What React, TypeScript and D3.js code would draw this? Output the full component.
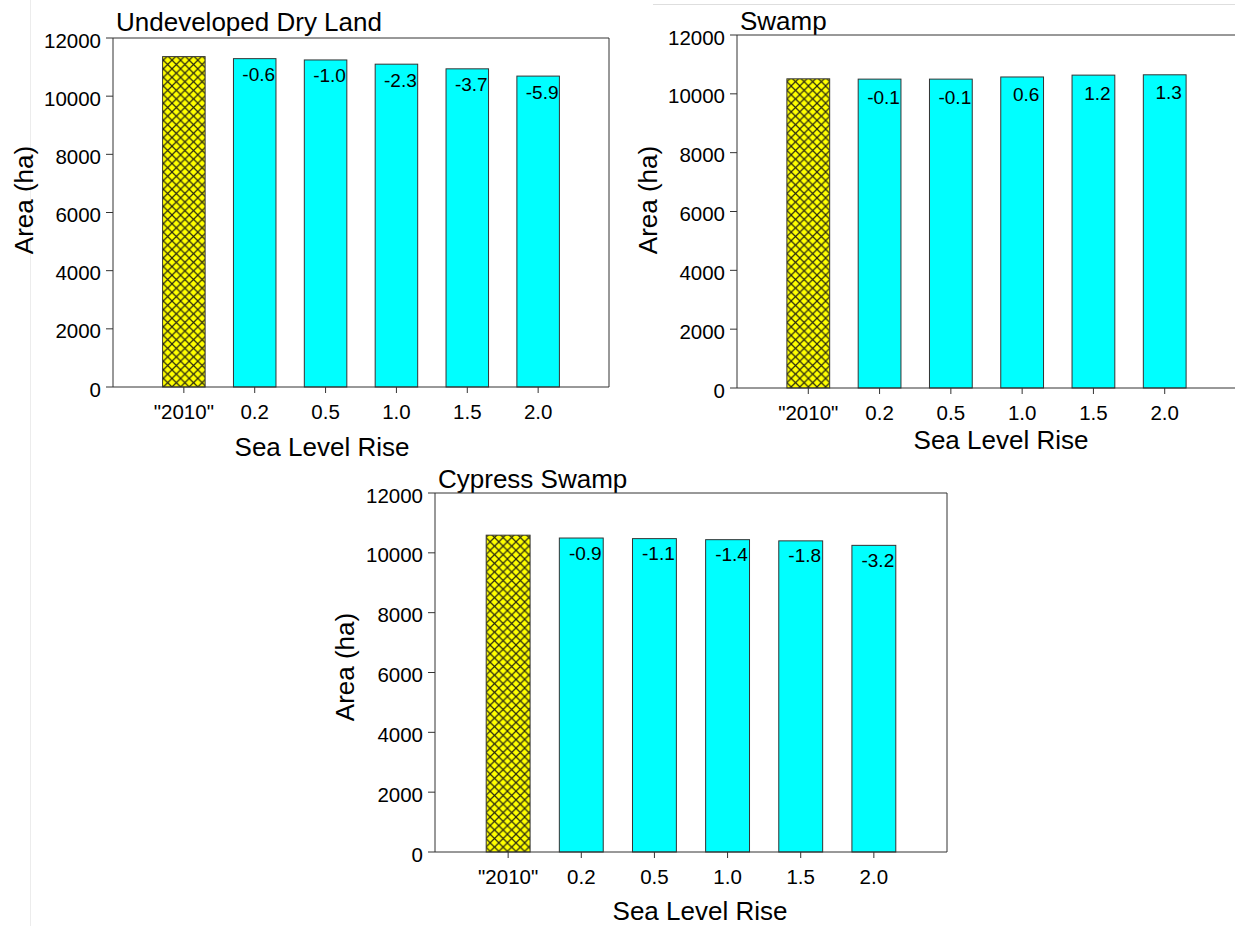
import React from "react";
import * as d3 from "d3";

const categories = ['"2010"', "0.2", "0.5", "1.0", "1.5", "2.0"];
const yTickValues = [0, 2000, 4000, 6000, 8000, 10000, 12000];

const dryLandValues = [11360, 11290, 11245, 11100, 10940, 10690];
const dryLandLabels = ["", "-0.6", "-1.0", "-2.3", "-3.7", "-5.9"];

const swampValues = [10510, 10500, 10500, 10573, 10636, 10647];
const swampLabels = ["", "-0.1", "-0.1", "0.6", "1.2", "1.3"];

const cypressValues = [10590, 10495, 10475, 10440, 10400, 10250];
const cypressLabels = ["", "-0.9", "-1.1", "-1.4", "-1.8", "-3.2"];

const FONT = "'Liberation Sans', Arial, Helvetica, sans-serif";
const STROKE = "#333";

type PanelProps = {
  title: string;
  values: number[];
  labels: string[];
  left: number;
  right: number;
  top: number;
  bottom: number;
  titleY: number;
  yTitleX: number;
  yTitleY: number;
  xTitleX: number;
  xTitleY: number;
  labelDy: number;
};

function Panel(p: PanelProps) {
  const x = d3.scaleLinear().domain([0, 7]).range([p.left, p.right]);
  const y = d3.scaleLinear().domain([0, 12000]).range([p.bottom, p.top]);
  const bw = x(0.6) - x(0);
  return (
    <g>
      <text x={p.left + 3} y={p.titleY} fontSize={26} fontFamily={FONT} fill="#000">
        {p.title}
      </text>
      {p.values.map((v, i) => {
        const cx = x(i + 1);
        return (
          <rect
            key={i}
            x={cx - bw / 2}
            y={y(v)}
            width={bw}
            height={y(0) - y(v)}
            fill={i === 0 ? "url(#hatch)" : "#00ffff"}
            stroke={STROKE}
            strokeWidth={1}
          />
        );
      })}
      {p.values.map((v, i) =>
        p.labels[i] ? (
          <text
            key={"l" + i}
            x={x(i + 1) + 4}
            y={y(v) + p.labelDy}
            fontSize={19}
            fontFamily={FONT}
            textAnchor="middle"
            dominantBaseline="central"
            fill="#000"
          >
            {p.labels[i]}
          </text>
        ) : null
      )}
      <line x1={p.left} x2={p.right} y1={p.top} y2={p.top} stroke={STROKE} strokeWidth={1} />
      <line x1={p.right} x2={p.right} y1={p.top} y2={p.bottom} stroke={STROKE} strokeWidth={1} />
      <line x1={p.left} x2={p.left} y1={p.top} y2={p.bottom} stroke={STROKE} strokeWidth={1} />
      <line x1={p.left} x2={p.right} y1={p.bottom} y2={p.bottom} stroke={STROKE} strokeWidth={1} />
      {yTickValues.map((t) => (
        <g key={"y" + t}>
          <line x1={p.left - 7} x2={p.left} y1={y(t)} y2={y(t)} stroke={STROKE} strokeWidth={1} />
          <text
            x={p.left - 12}
            y={y(t) + 2}
            fontSize={20.5}
            fontFamily={FONT}
            textAnchor="end"
            dominantBaseline="central"
            fill="#000"
          >
            {t}
          </text>
        </g>
      ))}
      {categories.map((c, i) => (
        <g key={"x" + i}>
          <line x1={x(i + 1)} x2={x(i + 1)} y1={p.bottom} y2={p.bottom + 6} stroke={STROKE} strokeWidth={1} />
          <text
            x={x(i + 1)}
            y={p.bottom + 24}
            fontSize={20.5}
            fontFamily={FONT}
            textAnchor="middle"
            dominantBaseline="central"
            fill="#000"
          >
            {c}
          </text>
        </g>
      ))}
      <text
        x={p.xTitleX}
        y={p.xTitleY}
        fontSize={26}
        fontFamily={FONT}
        textAnchor="middle"
        dominantBaseline="central"
        fill="#000"
      >
        Sea Level Rise
      </text>
      <text
        transform={`translate(${p.yTitleX},${p.yTitleY}) rotate(-90)`}
        fontSize={26}
        fontFamily={FONT}
        textAnchor="middle"
        dominantBaseline="central"
        fill="#000"
      >
        Area (ha)
      </text>
    </g>
  );
}

export default function App() {
  return (
    <svg
      width={1235}
      height={926}
      style={{ position: "absolute", left: 0, top: 0, background: "#fff" }}
    >
      <defs>
        <pattern id="hatch" patternUnits="userSpaceOnUse" width={8.6} height={8.6}>
          <rect width={8.6} height={8.6} fill="#ffff00" />
          <path d="M0,0 L8.6,8.6 M0,8.6 L8.6,0" stroke="#2a2a10" strokeWidth={1.2} />
        </pattern>
      </defs>
      <rect width={1235} height={926} fill="#fff" />
      <line x1={30.5} x2={30.5} y1={0} y2={926} stroke="#ececec" strokeWidth={1} />
      <line x1={653} x2={1235} y1={4.5} y2={4.5} stroke="#dedede" strokeWidth={1} />
      <Panel
        title="Undeveloped Dry Land"
        values={dryLandValues}
        labels={dryLandLabels}
        left={113}
        right={609}
        top={38}
        bottom={387}
        titleY={31}
        yTitleX={24}
        yTitleY={200}
        xTitleX={322}
        xTitleY={447}
        labelDy={16}
      />
      <Panel
        title="Swamp"
        values={swampValues}
        labels={swampLabels}
        left={737}
        right={1236}
        top={35}
        bottom={388}
        titleY={30}
        yTitleX={648}
        yTitleY={200}
        xTitleX={1001}
        xTitleY={440}
        labelDy={18}
      />
      <Panel
        title="Cypress Swamp"
        values={cypressValues}
        labels={cypressLabels}
        left={435}
        right={947}
        top={493}
        bottom={852}
        titleY={488}
        yTitleX={345}
        yTitleY={667}
        xTitleX={700}
        xTitleY={911}
        labelDy={15}
      />
    </svg>
  );
}
